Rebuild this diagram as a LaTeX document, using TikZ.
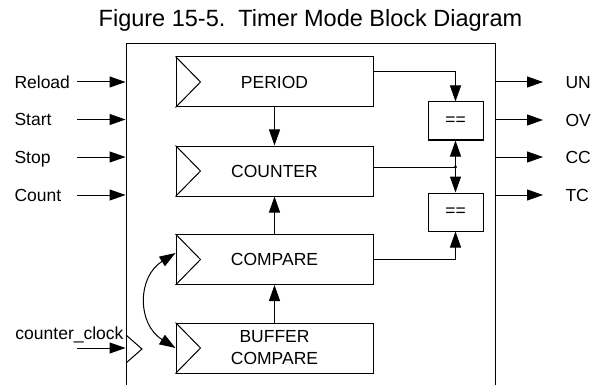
\documentclass[tikz,border=0pt]{standalone}
\usepackage{fontspec}
\setmainfont{Liberation Sans}
\usetikzlibrary{arrows.meta,calc}
\begin{document}
\begin{tikzpicture}[x=1pt,y=-1pt,
  line width=1pt,
  arr/.style={-{Triangle[length=16pt,width=11pt]}},
  darr/.style={{Triangle[length=16pt,width=11pt]}-{Triangle[length=16pt,width=11pt]}},
  lbl/.style={font=\fontsize{17.5}{21}\selectfont, inner sep=0pt},
  reg/.style={draw, rectangle, minimum width=197pt, minimum height=50pt, inner sep=0pt,
              font=\fontsize{17.5}{22}\selectfont, align=center},
  eqbox/.style={draw, rectangle, minimum width=55pt, minimum height=38pt, inner sep=0pt,
              font=\fontsize{17.5}{21}\selectfont},
  clk/.style={line width=1pt}
]
\clip (0,0) rectangle (594,385);
% title
\node[font=\fontsize{23.5}{28}\selectfont, inner sep=0pt, anchor=base] (title) at (310.5,27) {Figure 15-5.\ \ Timer Mode Block Diagram};
% main box
\node[draw, rectangle, minimum width=369pt, minimum height=356pt, inner sep=0pt] (main) at (310.5,222) {};
% registers
\node[reg] (period) at (274.5,82) {PERIOD};
\node[reg] (counter) at (274.5,171) {COUNTER};
\node[reg] (compare) at (274.5,259.5) {COMPARE};
\node[reg] (buffer) at (274.5,348) {BUFFER\\COMPARE};
% clock triangles
\foreach \b in {period,counter,compare,buffer}{
  \draw[clk] (\b.north west) -- ($(\b.west)+(25,0)$) -- (\b.south west);
}
% main clock
\coordinate (mclk) at (126,349);
\draw[clk] ($(mclk)+(0,-14)$) -- ($(mclk)+(16,0)$) -- ($(mclk)+(0,14)$);
% comparators
\node[eqbox] (eq1) at (455.5,121) {==};
\node[eqbox] (eq2) at (455.5,212) {==};
% internal connectors
\draw[arr] (period.south) -- (counter.north);
\draw[arr] (compare.north) -- (counter.south);
\draw[arr] (buffer.north) -- (compare.south);
\draw[arr] ([yshift=10pt]period.east) -| (eq1.north);
\coordinate (dot) at ([yshift=4pt]counter.east -| eq1.south);
\draw ([yshift=4pt]counter.east) -- (dot);
\fill (dot) circle (1.6pt);
\draw[arr] (dot) -- (eq1.south);
\draw[arr] (dot) -- (eq2.north);
\draw[arr] (compare.east) -| (eq2.south);
% curved arrow between compare and buffer
\draw[darr] ([yshift=6.5pt]compare.west) .. controls (137,277) and (137,324) .. (buffer.west);
% inputs
\foreach \n/\t/\y in {inR/Reload/82, inS/Start/119.5, inP/Stop/157, inC/Count/195}{
  \coordinate (\n) at (77,\y);
  \node[lbl, anchor=base west] (l\n) at (14,\y+6.3) {\t};
  \draw[arr] (\n) -- (\n -| main.west);
}
\coordinate (inK) at (77,348);
\node[lbl, anchor=base west] (linK) at (15,339.5) {counter\_clock};
\draw[arr] (inK) -- (inK -| main.west);
% outputs
\foreach \n/\t/\y in {oUN/UN/82, oOV/OV/120, oCC/CC/157, oTC/TC/195}{
  \coordinate (\n) at (543,\y);
  \node[lbl, anchor=base west] (l\n) at (565,\y+6.3) {\t};
  \draw[arr] (\n -| main.east) -- (\n);
}
\end{tikzpicture}
\end{document}
